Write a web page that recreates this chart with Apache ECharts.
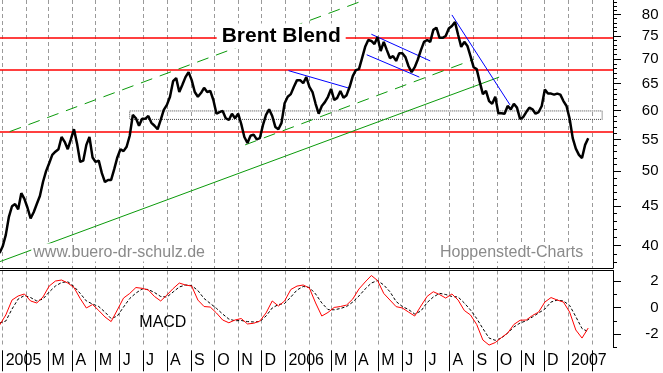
<!DOCTYPE html>
<html>
<head>
<meta charset="utf-8">
<script src="https://cdn.jsdelivr.net/npm/echarts@6/dist/echarts.min.js"></script>
<style>html,body{margin:0;padding:0;background:#fff}#c{width:663px;height:373px}</style>
</head>
<body>
<div id="c"></div>
<script>
// ---------- data ----------
const brentStart = '2004-12-28';
const brentStepDays = 4;
const brentValues = [
 39.1,39.9,41.3,43.6,45.0,45.3,44.6,46.8,46.0,44.8,
 43.4,44.2,45.3,46.4,48.4,50.0,51.2,52.5,53.0,53.4,
 55.4,54.6,53.4,55.0,56.7,54.3,51.4,51.6,54.1,55.4,
 52.1,51.4,51.6,49.7,48.4,48.7,48.7,50.3,52.1,53.4,
 53.1,53.8,55.6,59.2,58.6,57.3,58.5,58.5,59.0,57.8,
 57.3,56.7,58.3,60.1,61.0,62.5,65.5,66.1,63.4,64.8,
 66.3,67.3,65.7,63.4,62.5,63.2,64.2,63.4,63.6,61.9,
 59.4,59.7,59.9,58.6,58.3,59.4,58.6,59.4,57.6,55.4,
 54.4,55.6,55.8,55.0,55.2,57.4,59.2,60.2,59.0,57.1,
 56.7,57.8,61.3,62.5,63.0,64.4,65.7,65.7,65.1,66.3,
 64.4,63.4,61.2,59.4,60.8,61.5,62.5,64.0,61.9,62.3,
 63.6,62.3,62.8,64.4,66.5,67.7,67.9,70.2,72.6,74.1,
 73.9,73.2,74.8,71.7,73.7,71.9,70.2,70.6,69.6,71.2,
 71.2,70.4,68.5,67.3,68.3,69.9,71.9,73.7,74.1,73.7,
 76.4,76.9,74.6,74.6,75.0,76.7,77.3,78.2,75.3,72.6,
 73.7,72.8,70.6,68.3,67.9,65.3,63.0,63.6,61.7,61.2,
 62.5,59.5,59.5,59.4,60.8,60.2,61.2,60.5,58.5,58.8,
 59.7,60.5,60.2,59.4,59.7,60.8,63.9,63.1,63.1,62.9,
 63.1,62.9,61.7,60.8,58.5,55.2,53.5,52.5,52.0,54.1,
 55.2
];
const macdStart = '2004-12-28';
const macdStepDays = 8;
const macdValues = [
 -1.31,-0.55,0.58,0.89,1.04,0.51,0.36,0.81,1.64,2.02,
 2.10,1.87,1.53,0.70,-0.02,0.24,-0.21,-0.70,-1.05,-0.17,
 0.73,1.08,1.53,1.47,1.34,0.85,0.51,0.96,1.45,1.87,
 1.72,1.64,0.58,0.09,0.05,-0.40,-0.93,-1.14,-0.93,-0.82,
 -1.23,-1.18,-1.01,-0.40,0.51,0.13,0.51,1.38,1.64,1.72,
 1.49,0.36,-0.63,-0.36,0.02,0.09,0.20,0.66,1.42,1.95,
 2.44,2.06,1.08,0.58,0.08,-0.02,-0.33,-0.63,0.13,0.86,
 1.21,1.00,0.73,1.04,0.58,-0.21,-0.55,-1.27,-2.45,-2.83,
 -2.64,-2.26,-1.92,-1.27,-0.95,-0.93,-0.59,-0.33,0.43,0.77,
 0.58,0.43,-0.33,-1.69,-2.30,-1.54
];
const signalValues = [
 -1.16,-1.01,-0.10,0.66,0.92,0.77,0.51,0.66,1.19,1.64,
 1.91,1.97,1.61,1.09,0.51,0.28,0.09,-0.33,-0.82,-0.63,
 0.05,0.70,1.11,1.42,1.38,1.15,0.85,0.81,1.19,1.57,
 1.72,1.68,1.30,0.70,0.32,-0.05,-0.48,-0.86,-0.99,-0.97,
 -1.05,-1.08,-1.05,-0.63,-0.02,0.24,0.32,0.81,1.34,1.61,
 1.53,1.04,0.36,-0.14,-0.16,-0.06,0.09,0.43,0.89,1.42,
 1.87,2.06,1.72,1.21,0.47,0.09,-0.14,-0.48,-0.25,0.39,
 0.81,1.09,1.00,0.85,0.81,0.36,-0.17,-0.82,-1.58,-2.30,
 -2.47,-2.30,-1.92,-1.46,-1.16,-0.99,-0.70,-0.40,-0.10,0.43,
 0.58,0.51,0.17,-0.68,-1.58,-1.82
];
const monthTicks = ['2005-01','2005-02','2005-03','2005-04','2005-05','2005-06','2005-07','2005-08','2005-09','2005-10','2005-11','2005-12',
 '2006-01','2006-02','2006-03','2006-04','2006-05','2006-06','2006-07','2006-08','2006-09','2006-10','2006-11','2006-12',
 '2007-01','2007-02'];
const monthLabels = ['2005','','M','A','M','J','J','A','S','O','N','D',
 '2006','','M','A','M','J','J','A','S','O','N','D',
 '2007',''];
const priceTicks = [40,45,50,55,60,65,70,75,80];
const priceMinorTicks = [38,39,40,41,42,43,44,45,46,47,48,49,50,51,52,53,54,55,56,57,58,59,60,61,62,63,64,65,66,67,68,69,70,71,72,73,74,75,76,77,78,79,80,81,82,83];
const macdTicks = [-2,0,2];
const macdMinorTicks = [-3,-2,-1,0,1,2];
const resistanceLevels = [74.5, 67.7, 56.2];
const rangeBox = [['2005-06-14', 59.9], ['2007-02-14', 58.4]];
const greenSolid = [['2004-12-28', 38.1], ['2006-10-04', 66.3]];
const greenDashUpper = [['2005-01-10', 56.3], ['2006-04-14', 83.6]];
const greenDashMid = [['2005-11-10', 54.1], ['2006-09-01', 69.9]];
const blueLines = [
 [['2006-01-05', 67.6], ['2006-03-25', 64.1]],
 [['2006-04-22', 75.4], ['2006-07-07', 69.6]],
 [['2006-04-16', 70.9], ['2006-06-23', 66.3]],
 [['2006-08-04', 79.9], ['2006-10-18', 61.0]]
];
const xRange = ['2004-12-28T12', '2007-02-28'];
const yRange = [37.39, 83.56];
const macdRange = [-3, 2.82];

// ---------- helpers ----------
function ts(s) {
  const [d, h] = s.split('T');
  const p = d.split('-').map(Number);
  return new Date(p[0], p[1] - 1, p[2] || 1, h ? Number(h) : 0).getTime();
}
function series(startStr, step, values) {
  const p = startStr.split('-').map(Number);
  return values.map((v, i) => [new Date(p[0], p[1] - 1, p[2] + i * step).getTime(), v]);
}
const pts = arr => arr.map(([d, v]) => [ts(d), v]);
const monthTs = monthTicks.map(ts);
function monthLabel(v) {
  for (let i = 0; i < monthTs.length; i++) if (Math.abs(monthTs[i] - v) < 43200000) return monthLabels[i];
  return '';
}
const FONT = '"Liberation Sans", Arial, sans-serif';
const X_MIN = ts(xRange[0]), X_MAX = ts(xRange[1]);
const dash = { show: true, lineStyle: { color: '#9a9a9a', width: 1, type: [4, 3] } };

const chart = echarts.init(document.getElementById('c'), null, { renderer: 'canvas' });
const trend = (data, color, type) => ({
  type: 'line', xAxisIndex: 0, yAxisIndex: 0, data: pts(data), symbol: 'none', silent: true,
  lineStyle: { color, width: 1, type }, z: 2
});

chart.setOption({
  animation: false,
  backgroundColor: '#fff',
  grid: [
    { left: 0, top: 0, width: 613, height: 268, outerBoundsMode: 'none', containLabel: false },
    { left: 0, top: 270.5, width: 613, height: 76.8, outerBoundsMode: 'none', containLabel: false }
  ],
  xAxis: [
    { gridIndex: 0, type: 'value', min: X_MIN, max: X_MAX, position: 'bottom',
      axisLine: { show: true, onZero: false, lineStyle: { color: '#000', width: 1 } },
      axisTick: { show: false, customValues: monthTs },
      axisLabel: { show: false, customValues: monthTs },
      splitLine: dash },
    { gridIndex: 1, type: 'value', min: X_MIN, max: X_MAX, position: 'bottom', offset: 3,
      axisLine: { show: false, onZero: false },
      axisTick: { show: true, length: 21, customValues: monthTs, lineStyle: { color: '#000', width: 1 } },
      axisLabel: { show: true, customValues: monthTs, formatter: monthLabel, align: 'left',
        padding: [0, 0, 0, 3], margin: 2, fontSize: 16, color: '#000', fontFamily: FONT },
      splitLine: dash },
    { gridIndex: 1, type: 'value', min: X_MIN, max: X_MAX, position: 'top',
      axisLine: { show: true, onZero: false, lineStyle: { color: '#000', width: 1 } },
      axisTick: { show: false }, axisLabel: { show: false }, splitLine: { show: false } }
  ],
  yAxis: [
    { gridIndex: 0, type: 'log', logBase: 10, min: yRange[0], max: yRange[1], position: 'right',
      axisLine: { show: true, onZero: false, lineStyle: { color: '#000', width: 1 } },
      axisTick: { show: true, length: 8, customValues: priceTicks, lineStyle: { color: '#000' } },
      axisLabel: { show: true, customValues: priceTicks, formatter: v => String(Math.round(v)),
        align: 'right', margin: 45.5, fontSize: 15, color: '#000', fontFamily: FONT },
      splitLine: { show: false } },
    { gridIndex: 0, type: 'log', logBase: 10, min: yRange[0], max: yRange[1], position: 'right',
      axisLine: { show: false, onZero: false },
      axisTick: { show: true, length: 4, customValues: priceMinorTicks, lineStyle: { color: '#000' } },
      axisLabel: { show: false }, splitLine: { show: false } },
    { gridIndex: 1, type: 'value', min: macdRange[0], max: macdRange[1], position: 'right',
      axisLine: { show: true, onZero: false, lineStyle: { color: '#000', width: 1 } },
      axisTick: { show: true, length: 8, customValues: macdTicks, lineStyle: { color: '#000' } },
      axisLabel: { show: true, customValues: macdTicks, formatter: v => String(Math.round(v)),
        align: 'right', margin: 45.5, fontSize: 15, color: '#000', fontFamily: FONT },
      splitLine: { show: false } },
    { gridIndex: 1, type: 'value', min: macdRange[0], max: macdRange[1], position: 'right',
      axisLine: { show: false, onZero: false },
      axisTick: { show: true, length: 4, customValues: macdMinorTicks, lineStyle: { color: '#000' } },
      axisLabel: { show: false }, splitLine: { show: false } }
  ],
  series: [
    Object.assign(trend(greenSolid, '#0a9a0a', 'solid'), {
      markArea: { silent: true, z: 1,
        itemStyle: { color: 'rgba(0,0,0,0)', borderColor: '#444', borderWidth: 1, borderType: [1, 1] },
        data: [[{ coord: [ts(rangeBox[0][0]), rangeBox[0][1]] }, { coord: [ts(rangeBox[1][0]), rangeBox[1][1]] }]] },
      markLine: { silent: true, z: 1, symbol: 'none', label: { show: false },
        lineStyle: { color: '#ff0000', width: 1.6, type: 'solid' },
        data: resistanceLevels.map(v => ({ yAxis: v })) }
    }),
    trend(greenDashUpper, '#0a9a0a', [12, 8]),
    trend(greenDashMid, '#0a9a0a', [12, 8]),
    ...blueLines.map(l => trend(l, '#0000ff', 'solid')),
    { type: 'line', xAxisIndex: 0, yAxisIndex: 0, data: series(brentStart, brentStepDays, brentValues),
      symbol: 'none', silent: true, lineStyle: { color: '#000', width: 2.5 }, z: 3 },
    { type: 'line', xAxisIndex: 1, yAxisIndex: 2, data: series(macdStart, macdStepDays, signalValues),
      symbol: 'none', silent: true, lineStyle: { color: '#000', width: 1, type: [3, 2] }, z: 2 },
    { type: 'line', xAxisIndex: 1, yAxisIndex: 2, data: series(macdStart, macdStepDays, macdValues),
      symbol: 'none', silent: true, lineStyle: { color: '#ff0000', width: 1 }, z: 3 }
  ],
  graphic: [
    { type: 'text', x: 216.7, y: 36, z: 100, silent: true,
      style: { text: 'Brent Blend', font: 'bold 21px ' + FONT, fill: '#000', verticalAlign: 'middle',
        align: 'left', backgroundColor: '#fff', padding: [2, 5] } },
    { type: 'text', x: 31.3, y: 252.5, z: 100, silent: true,
      style: { text: 'www.buero-dr-schulz.de', font: '16px ' + FONT, fill: '#8a8a8a', verticalAlign: 'middle',
        align: 'left', backgroundColor: '#fff', padding: [1, 2] } },
    { type: 'text', x: 438, y: 252.5, z: 100, silent: true,
      style: { text: 'Hoppenstedt-Charts', font: '16px ' + FONT, fill: '#8a8a8a', verticalAlign: 'middle',
        align: 'left', backgroundColor: '#fff', padding: [1, 2] } },
    { type: 'text', x: 139.3, y: 323, z: 100, silent: true,
      style: { text: 'MACD', font: '16px ' + FONT, fill: '#000', verticalAlign: 'middle', align: 'left' } }
  ]
});
</script>
</body>
</html>
